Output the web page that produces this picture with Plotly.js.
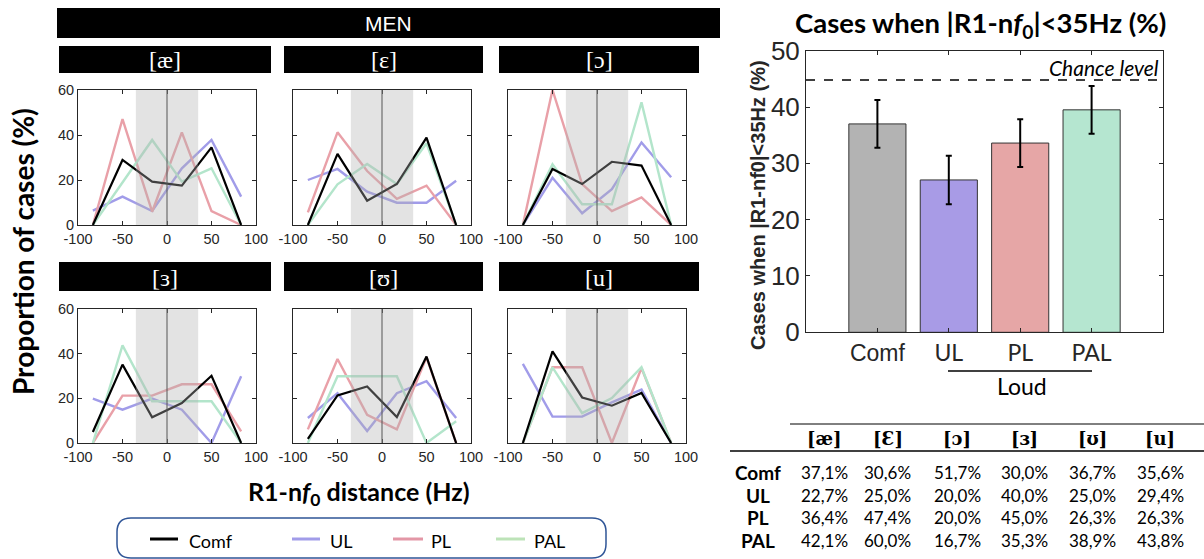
<!DOCTYPE html>
<html>
<head>
<meta charset="utf-8">
<script src="https://cdn.plot.ly/plotly-3.0.1.min.js"></script>
<style>
html,body{margin:0;padding:0;background:#fff;}
#chart{width:1204px;height:559px;}
</style>
</head>
<body>
<div id="chart"></div>
<script>
// ---------- DATA ----------
const xBins = [-83.3, -50, -16.7, 16.7, 50, 83.3];
const vowels = ['[æ]', '[ɛ]', '[ɔ]', '[ɜ]', '[ʊ]', '[u]'];
const conditions = ['Comf', 'UL', 'PL', 'PAL'];
// proportion of cases (%) per vowel (rows) and bin (columns)
const comfProp = [[0,28.9,19.3,17.5,34.5,0],[0,31.6,10.8,18.2,38.8,0],[0,24.9,18.2,28.1,26.4,0],[4.9,35.1,11.5,17.9,30.1,0],[1.9,21.3,25.3,11.6,38.7,0],[0,41,20.4,16.7,22.4,0]];
const ulProp   = [[6.4,12.6,6.2,25.2,37.8,12.6],[20,24.9,14.8,9.9,9.9,19.7],[0,21,5.2,15.9,36.7,21.2],[19.9,14.9,19.9,14.9,0,29.9],[11.2,22.3,5.4,22.3,27.7,11.2],[35.4,11.8,11.8,18.2,23.9,0]];
const plProp   = [[0,47.1,5.9,41.2,6.2,0],[5.6,41.2,24,11.6,17.5,0],[0,60,18.2,6.2,12.3,0],[0,21.2,21.2,26.3,26.3,5.2],[6.1,37.6,12.6,6.1,38.4,0],[0,33.9,33.9,0,33.6,0]];
const palProp  = [[0,19,37.8,19.3,25.2,0],[0,18.1,27.1,18.2,36.3,0],[0,27,9.2,9.2,54.5,0],[0,43.7,18.7,18.7,18.7,0],[0,29.9,29.9,29.9,0,9.7],[0,33.9,13.4,20.1,33.9,0]];
const bandHalfWidth = 35;
// bar chart
const barValues = [37.0, 27.05, 33.6, 39.5];
const barErrors = [4.25, 4.3, 4.25, 4.25];
const chanceLevel = 44.8;
// table
const tableVowels = ['[æ]', '[Ɛ]', '[ɔ]', '[ɜ]', '[ʊ]', '[u]'];
const tableComf = ['37,1%','30,6%','51,7%','30,0%','36,7%','35,6%'];
const tableUL   = ['22,7%','25,0%','20,0%','40,0%','25,0%','29,4%'];
const tablePL   = ['36,4%','47,4%','20,0%','45,0%','26,3%','26,3%'];
const tablePAL  = ['42,1%','60,0%','16,7%','35,3%','38,9%','43,8%'];

// ---------- STYLE ----------
const W = 1204, H = 559;
const px = x => x / W;
const py = y => 1 - y / H;
const lineColors = {Comf:'#000000', UL:'#a19ce9', PL:'#e9a0a8', PAL:'#b3e5cb'};
const lineWidths = {Comf:2.2, UL:2.4, PL:2.4, PAL:2.4};
const barColors = ['#b3b3b3', '#a89be6', '#e6a6a6', '#b5e6d0'];
const condData = {Comf:comfProp, UL:ulProp, PL:plProp, PAL:palProp};
const colX = [[78,256],[293,471],[508,686]];
const rowY = [[90,225],[309,443]];
const titleBarX = [[59,271],[284,483],[499,699]];
const titleBarY = [[46,73],[262,291]];
const tickFont = {family:'Liberation Sans, Arial, sans-serif', size:14.5, color:'#262626'};
const calibri = 'Lato, Carlito, Calibri, sans-serif';

const data = [];
const layout = {
  width: W, height: H,
  margin: {l:0, r:0, t:0, b:0},
  paper_bgcolor: '#ffffff',
  plot_bgcolor: '#ffffff',
  showlegend: false,
  shapes: [],
  annotations: []
};

// small multiples
for (let v = 0; v < 6; v++) {
  const r = Math.floor(v / 3), c = v % 3;
  const n = v + 1;
  const xa = 'x' + (n === 1 ? '' : n), ya = 'y' + (n === 1 ? '' : n);
  const xk = 'xaxis' + (n === 1 ? '' : n), yk = 'yaxis' + (n === 1 ? '' : n);
  ['UL','PL','PAL','Comf'].forEach(cond => {
    data.push({
      type:'scatter', mode:'lines', x:xBins, y:condData[cond][v],
      xaxis:xa, yaxis:ya, name:cond,
      line:{color:lineColors[cond], width:lineWidths[cond]},
      cliponaxis:true, hoverinfo:'skip'
    });
  });
  layout[xk] = {
    domain:[px(colX[c][0]), px(colX[c][1])], anchor:ya,
    range:[-100,100], tickvals:[-100,-50,0,50,100], ticktext:['-100','-50','0','50','100'],
    ticks:'inside', ticklen:4, tickcolor:'#262626', showline:true, linecolor:'#262626', linewidth:1,
    mirror:'ticks', showgrid:false, zeroline:false, tickfont:tickFont, fixedrange:true, ticklabelstandoff:1
  };
  layout[yk] = {
    domain:[py(rowY[r][1]), py(rowY[r][0])], anchor:xa,
    range:[0,60], tickvals:[0,20,40,60], showticklabels:(c === 0),
    ticks:'inside', ticklen:4, tickcolor:'#262626', showline:true, linecolor:'#262626', linewidth:1,
    mirror:'ticks', showgrid:false, zeroline:false, tickfont:tickFont, fixedrange:true
  };
  layout.shapes.push({type:'line', xref:xa, yref:ya + ' domain', x0:0, x1:0, y0:0, y1:1,
    line:{color:'#222222', width:1}, layer:'above'});
  layout.shapes.push({type:'rect', xref:xa, yref:ya + ' domain', x0:-bandHalfWidth, x1:bandHalfWidth, y0:0, y1:1,
    fillcolor:'rgb(177,177,177)', opacity:0.36, line:{width:0}, layer:'above'});
  layout.shapes.push({type:'rect', xref:'paper', yref:'paper',
    x0:px(titleBarX[c][0]), x1:px(titleBarX[c][1]), y0:py(titleBarY[r][1]), y1:py(titleBarY[r][0]),
    fillcolor:'#000', line:{width:0}, layer:'above'});
  layout.annotations.push({xref:'paper', yref:'paper',
    x:px((titleBarX[c][0]+titleBarX[c][1])/2), y:py((titleBarY[r][0]+titleBarY[r][1])/2 + 1),
    text:vowels[v], showarrow:false, xanchor:'center', yanchor:'middle',
    font:{family:'Liberation Serif, Times New Roman, serif', size:24, color:'#ffffff'}});
}

// MEN bar
layout.shapes.push({type:'rect', xref:'paper', yref:'paper', x0:px(57), x1:px(720), y0:py(38), y1:py(8),
  fillcolor:'#000', line:{width:0}});
layout.annotations.push({xref:'paper', yref:'paper', x:px(388), y:py(23), text:'MEN', showarrow:false,
  xanchor:'center', yanchor:'middle', font:{family:'Liberation Sans, Arial, sans-serif', size:21, color:'#fff'}});

// axis titles of small multiples
layout.annotations.push({xref:'paper', yref:'paper', x:px(23), y:py(252), text:'<b>Proportion of cases (%)</b>',
  textangle:-90, showarrow:false, xanchor:'center', yanchor:'middle',
  font:{family:calibri, size:28, color:'#000'}});
layout.annotations.push({xref:'paper', yref:'paper', x:px(359), y:py(493), text:'<b>R1-n<i>f</i><sub>0</sub> distance (Hz)</b>',
  showarrow:false, xanchor:'center', yanchor:'middle',
  font:{family:calibri, size:25, color:'#000'}});

// legend box (rounded)
(function(){
  const x0=px(117), x1=px(606), y0=py(558), y1=py(518);
  const rx=14/W, ry=14/H;
  const path = `M ${x0+rx},${y1} L ${x1-rx},${y1} Q ${x1},${y1} ${x1},${y1-ry} L ${x1},${y0+ry} Q ${x1},${y0} ${x1-rx},${y0} ` +
               `L ${x0+rx},${y0} Q ${x0},${y0} ${x0},${y0+ry} L ${x0},${y1-ry} Q ${x0},${y1} ${x0+rx},${y1} Z`;
  layout.shapes.push({type:'path', xref:'paper', yref:'paper', path:path, line:{color:'#2f5597', width:1.5}, fillcolor:'rgba(0,0,0,0)'});
})();
const legendX = [[150,178,187],[292,320,328],[393,423,429],[496,525,532]];
const legendLineColors = {Comf:'#000000', UL:'#a19ce9', PL:'#e397a6', PAL:'#bde3b8'};
conditions.forEach((cond,i) => {
  layout.shapes.push({type:'line', xref:'paper', yref:'paper', x0:px(legendX[i][0]), x1:px(legendX[i][1]),
    y0:py(539), y1:py(539), line:{color:legendLineColors[cond], width:3}});
  layout.annotations.push({xref:'paper', yref:'paper', x:px(legendX[i][2]), y:py(541), text:cond, showarrow:false,
    xanchor:'left', yanchor:'middle', font:{family:calibri, size:18, color:'#000'}});
});

// ---------- BAR CHART ----------
data.push({
  type:'bar', x:conditions, y:barValues, xaxis:'x7', yaxis:'y7', width:0.8,
  marker:{color:barColors, line:{color:'#333333', width:1}},
  error_y:{type:'data', array:barErrors, visible:true, color:'#000', thickness:2, width:3},
  hoverinfo:'skip'
});
layout.xaxis7 = {
  domain:[px(806), px(1163)], anchor:'y7', type:'category', range:[-1,4],
  tickvals:conditions,
  ticktext:['Comf', '<span style="font-family:Lato;font-size:23px">UL</span>',
            '<span style="font-family:Lato;font-size:23px">PL</span>',
            '<span style="font-family:Lato;font-size:23px">PAL</span>'],
  ticks:'inside', ticklen:4, tickcolor:'#262626', showline:true, linecolor:'#262626', linewidth:1,
  mirror:'ticks', showgrid:false, zeroline:false, fixedrange:true,
  tickfont:{family:'Liberation Sans, Arial, sans-serif', size:23, color:'#262626'}
};
layout.yaxis7 = {
  domain:[py(332.3), py(50.7)], anchor:'x7', range:[0,50], tickvals:[0,10,20,30,40,50],
  ticks:'inside', ticklen:4, tickcolor:'#262626', showline:true, linecolor:'#262626', linewidth:1,
  mirror:'ticks', showgrid:false, zeroline:false, fixedrange:true,
  tickfont:{family:'Liberation Sans, Arial, sans-serif', size:26, color:'#262626'}
};
layout.shapes.push({type:'line', xref:'x7 domain', yref:'y7', x0:0, x1:1, y0:chanceLevel, y1:chanceLevel,
  line:{color:'#000', width:1.5, dash:'dash'}});
layout.annotations.push({xref:'paper', yref:'y7', x:px(1161), y:chanceLevel, text:'<i>Chance level</i>', showarrow:false,
  xanchor:'right', yanchor:'bottom', yshift:-2, font:{family:calibri, size:21, color:'#000'}});
layout.annotations.push({xref:'paper', yref:'paper', x:px(980), y:py(25), text:'<b>Cases when |R1-n<i>f</i><sub>0</sub>|&lt;35Hz (%)</b>',
  showarrow:false, xanchor:'center', yanchor:'middle', font:{family:calibri, size:27.5, color:'#000'}});
layout.annotations.push({xref:'paper', yref:'paper', x:px(758), y:py(205), text:'<b>Cases when |R1-nf0|&lt;35Hz (%)</b>',
  textangle:-90, showarrow:false, xanchor:'center', yanchor:'middle', font:{family:'Liberation Sans, Arial, sans-serif', size:20, color:'#262626'}});
layout.shapes.push({type:'line', xref:'paper', yref:'paper', x0:px(948), x1:px(1092), y0:py(371), y1:py(371),
  line:{color:'#000', width:1.5}});
layout.annotations.push({xref:'paper', yref:'paper', x:px(1022), y:py(386), text:'Loud', showarrow:false,
  xanchor:'center', yanchor:'middle', font:{family:calibri, size:23, color:'#000'}});

// ---------- TABLE ----------
const tableColX = [824, 888, 957, 1024, 1092, 1160];
const tableRowY = [472, 495, 517, 540];
const tableRows = [tableComf, tableUL, tablePL, tablePAL];
layout.shapes.push({type:'line', xref:'paper', yref:'paper', x0:px(790), x1:px(1204), y0:py(424), y1:py(424), line:{color:'#000', width:1}});
layout.shapes.push({type:'line', xref:'paper', yref:'paper', x0:px(730), x1:px(1204), y0:py(451), y1:py(451), line:{color:'#000', width:1.5}});
tableVowels.forEach((t,i) => {
  layout.annotations.push({xref:'paper', yref:'paper', x:px(tableColX[i]), y:py(438), text:'<b>'+t+'</b>', showarrow:false,
    xanchor:'center', yanchor:'middle', font:{family:'DejaVu Serif, Liberation Serif, serif', size:18, color:'#000'}});
});
conditions.forEach((cond,r) => {
  layout.annotations.push({xref:'paper', yref:'paper', x:px(758), y:py(tableRowY[r]), text:'<b>'+cond+'</b>', showarrow:false,
    xanchor:'center', yanchor:'middle', font:{family:calibri, size:19, color:'#000'}});
  tableRows[r].forEach((val,i) => {
    layout.annotations.push({xref:'paper', yref:'paper', x:px(tableColX[i]), y:py(tableRowY[r]), text:val, showarrow:false,
      xanchor:'center', yanchor:'middle', font:{family:calibri, size:17, color:'#000'}});
  });
});

Plotly.newPlot('chart', data, layout, {staticPlot:true, displayModeBar:false});
</script>
</body>
</html>
